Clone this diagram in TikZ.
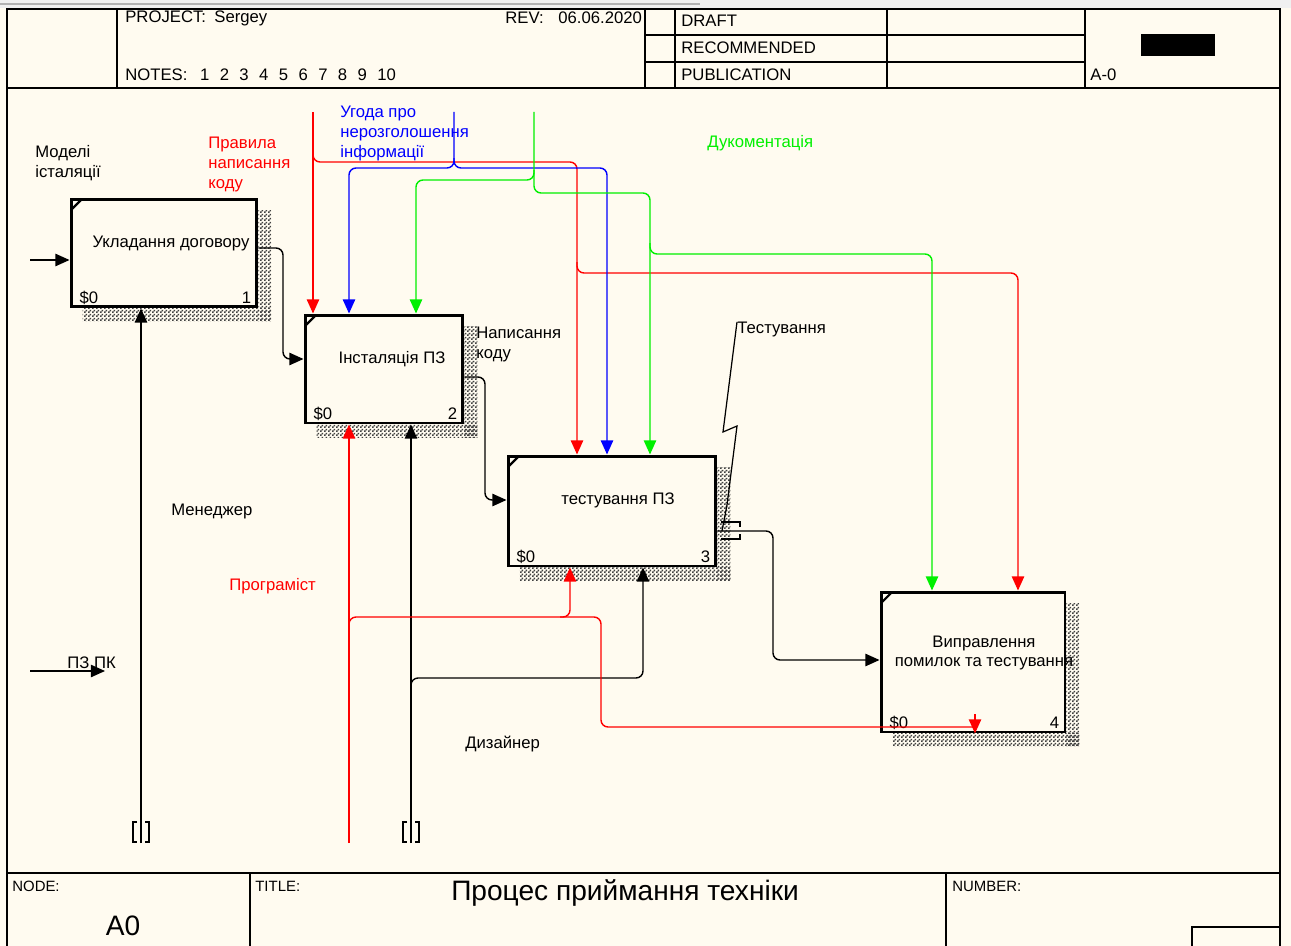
\documentclass[tikz,border=0pt]{standalone}
\usepackage{fontspec}
\setmainfont{Liberation Sans}
\usetikzlibrary{arrows.meta,patterns}
\definecolor{paper}{RGB}{255,251,240}
\definecolor{ctlred}{RGB}{255,0,0}
\definecolor{ctlblue}{RGB}{0,0,255}
\definecolor{ctlgreen}{RGB}{0,240,0}
\pgfdeclarepatternformonly{idefshade}{\pgfpointorigin}{\pgfqpoint{2pt}{2pt}}{\pgfqpoint{2pt}{2pt}}{
  \pgfpathrectangle{\pgfpointorigin}{\pgfqpoint{1pt}{1pt}}
  \pgfpathrectangle{\pgfqpoint{1pt}{1pt}}{\pgfqpoint{1pt}{1pt}}
  \pgfusepath{fill}}

\begin{document}
\begin{tikzpicture}[x=0.02cm,y=-0.02cm,
  sheetline/.style={line width=1.1pt},
  actbox/.style={draw,line width=1.7pt,fill=paper,inner sep=0pt},
  flow/.style={line width=0.8pt,rounded corners=4pt,-{Triangle[length=8pt,width=7pt]}},
  wire/.style={line width=0.8pt,rounded corners=4pt},
  txt/.style={font=\fontsize{9.5}{11.3}\selectfont,inner sep=0pt,align=left},
  hdr/.style={font=\fontsize{9.5}{11}\selectfont,inner sep=0pt},
  small/.style={font=\fontsize{8.5}{10}\selectfont,inner sep=0pt}]
\useasboundingbox (0,0) rectangle (1291,946);
\fill[paper] (0,0) rectangle (1291,946);
\fill[black!6] (0,0) rectangle (1291,8);
\draw[black!30,line width=1pt] (0,4) -- (700,4);

% sheet frame
\draw[sheetline] (7,946) -- (7,9) -- (1280,9) -- (1280,946);
\draw[sheetline] (7,88) -- (1280,88);
\draw[sheetline] (7,873) -- (1280,873);
\foreach \x in {117,645,675,887,1085} \draw[sheetline] (\x,9) -- (\x,88);
\foreach \y in {35,62} \draw[sheetline] (645,\y) -- (1085,\y);
\foreach \x in {250,946} \draw[sheetline] (\x,873) -- (\x,946);
\draw[sheetline] (1192,946) -- (1192,927) -- (1280,927);
\fill (1141,34) rectangle (1215,56);

% header
\node[hdr,anchor=west] (proj) at (125,18) {PROJECT:\enspace Sergey};
\node[hdr,anchor=west] (rev) at (505,18) {REV:};
\node[hdr,anchor=west] (revdate) at (558,18) {06.06.2020};
\node[hdr,anchor=west] (notes) at (125,75) {NOTES:};
\foreach \n [count=\i] in {1,...,10} \node[hdr,anchor=west] (note\i) at (180+19.7*\i,75) {\n};
\node[hdr,anchor=west] (draft) at (681,21) {DRAFT};
\node[hdr,anchor=west] (recom) at (681,48) {RECOMMENDED};
\node[hdr,anchor=west] (publ) at (681,75) {PUBLICATION};
\node[hdr,anchor=west] (page) at (1090,75) {A-0};

% footer
\node[small,anchor=west] (nodelbl) at (12,886) {NODE:};
\node[font=\fontsize{16}{19}\selectfont,inner sep=0pt] (nodeval) at (123,926) {A0};
\node[small,anchor=west] (titlelbl) at (255,886) {TITLE:};
\node[font=\fontsize{16}{19}\selectfont,inner sep=0pt] (title) at (625,893) {Процес приймання техніки};
\node[small,anchor=west] (numlbl) at (952,886) {NUMBER:};

% activity boxes
\node[actbox,minimum width=3.72cm,minimum height=2.16cm] (b1) at (164,253) {};
\node[actbox,minimum width=3.16cm,minimum height=2.16cm] (b2) at (384,369) {};
\node[actbox,minimum width=4.16cm,minimum height=2.2cm] (b3) at (612,511) {};
\node[actbox,minimum width=3.68cm,minimum height=2.8cm] (b4) at (973,662) {};
\foreach \b in {b1,b2,b3,b4} {
  \fill[pattern=idefshade,pattern color=black!75] ([yshift=-7.4pt]\b.north east) rectangle ([xshift=7.4pt,yshift=-7.4pt]\b.south east);
  \fill[pattern=idefshade,pattern color=black!75] ([xshift=7.4pt]\b.south west) rectangle ([xshift=7.4pt,yshift=-7.4pt]\b.south east);
  \draw[line width=1.3pt] ([xshift=1pt,yshift=-7pt]\b.north west) -- ([xshift=7pt,yshift=-1pt]\b.north west);
  \node[txt,anchor=base west] at ([xshift=5.5pt,yshift=2.8pt]\b.south west) {\$0};
}
\foreach \b/\n in {b1/1,b2/2,b3/3,b4/4}
  \node[txt,anchor=base east] at ([xshift=-4pt,yshift=2.8pt]\b.south east) {\n};
\node[txt] (t1) at (171,243) {Укладання договору};
\node[txt] (t2) at (392,359) {Інсталяція ПЗ};
\node[txt] (t3) at (618,500) {тестування ПЗ};
\node[txt,align=center] (t4) at (984,653) {Виправлення\\помилок та тестування};

% labels
\node[txt,anchor=north west] (lmod) at (35,145) {Моделі\\істаляції};
\node[txt,anchor=north west,text=ctlred] (lrule) at (208,137) {Правила\\написання\\коду};
\node[txt,anchor=north west,text=ctlblue] (lnda) at (340,106) {Угода про\\нерозголошення\\інформації};
\node[txt,anchor=north west,text=ctlgreen] (ldoc) at (707,135) {Дукоментація};
\node[txt,anchor=north west] (lcode) at (476,327) {Написання\\коду};
\node[txt,anchor=north west] (ltest) at (737,322) {Тестування};
\node[txt,anchor=north west] (lman) at (171,504) {Менеджер};
\node[txt,anchor=north west,text=ctlred] (lprog) at (229,578) {Програміст};
\node[txt,anchor=north west] (lpc) at (67,656) {ПЗ ПК};
\node[txt,anchor=north west] (ldes) at (465,736) {Дизайнер};

% inputs and outputs
\draw[flow] (30,260) -- (b1.west |- 0,260);
\draw[flow] (30,671) -- (105,671);
\draw[flow] (b1.east |- 0,248) -- (283,248) -- (283,359) -- (b2.west |- 0,359);
\draw[flow] (b2.east |- 0,377) -- (485,377) -- (485,500) -- (b3.west |- 0,500);
\draw[flow] (b3.east |- 0,531) -- (773,531) -- (773,660) -- (b4.west |- 0,660);
\draw[line width=0.8pt] (721,522) -- (740,522) -- (740,527);
\draw[line width=0.8pt] (721,539) -- (740,539) -- (740,534);
\draw[line width=0.7pt] (ltest.north west) -- (723,432) -- (737,426) -- (727,505) -- (722,531);

% controls
\draw[flow,ctlred] (313,112) -- (b2.north -| 313,0);
\draw[flow,ctlred] (313,150) -- (313,162) -- (577,162) -- (b3.north -| 577,0);
\draw[flow,ctlred] (577,262) -- (577,273) -- (1018,273) -- (b4.north -| 1018,0);
\draw[flow,ctlblue] (454,112) -- (454,168) -- (349,168) -- (b2.north -| 349,0);
\draw[flow,ctlblue] (454,158) -- (454,168) -- (607,168) -- (b3.north -| 607,0);
\draw[flow,ctlgreen] (534,112) -- (534,180) -- (416,180) -- (b2.north -| 416,0);
\draw[flow,ctlgreen] (534,170) -- (534,193) -- (650,193) -- (b3.north -| 650,0);
\draw[flow,ctlgreen] (650,243) -- (650,254) -- (932,254) -- (b4.north -| 932,0);

% mechanisms
\draw[flow] (141,843) -- (b1.south -| 141,0);
\draw[flow] (411,843) -- (b2.south -| 411,0);
\draw[flow] (411,688) -- (411,678) -- (643,678) -- (b3.south -| 643,0);
\draw[flow,ctlred] (349,843) -- (b2.south -| 349,0);
\draw[flow,ctlred] (349,627) -- (349,617) -- (570,617) -- (b3.south -| 570,0);
\draw[wire,ctlred] (560,617) -- (601,617) -- (601,727) -- (975,727);
\draw[ctlred,line width=0.8pt,-{Triangle[length=8pt,width=7pt]}] (975,714) -- (b4.south -| 975,0);
\foreach \x in {141,411} {
  \draw[line width=0.8pt] (\x-4,822) -- (\x-8,822) -- (\x-8,842) -- (\x-4,842);
  \draw[line width=0.8pt] (\x+4,822) -- (\x+8,822) -- (\x+8,842) -- (\x+4,842);
}
\end{tikzpicture}
\end{document}
